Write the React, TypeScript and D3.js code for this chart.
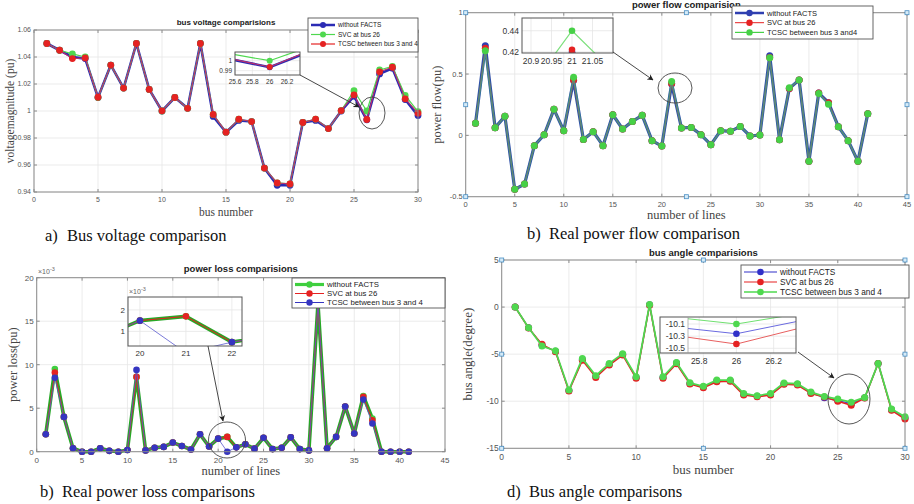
import React, { useRef, useEffect } from 'react';
import * as d3 from 'd3';

// ---- data ----
const busNumbers = [1, 2, 3, 4, 5, 6, 7, 8, 9, 10, 11, 12, 13, 14, 15, 16, 17, 18, 19, 20, 21, 22, 23, 24, 25, 26, 27, 28, 29, 30];
const lineNumbers = [1, 2, 3, 4, 5, 6, 7, 8, 9, 10, 11, 12, 13, 14, 15, 16, 17, 18, 19, 20, 21, 22, 23, 24, 25, 26, 27, 28, 29, 30, 31, 32, 33, 34, 35, 36, 37, 38, 39, 40, 41];

// a) bus voltage (pu)
const voltWithout = [1.05, 1.045, 1.040, 1.0388, 1.010, 1.034, 1.017, 1.05, 1.016, 1.000, 1.010, 1.002, 1.05, 0.996, 0.9843, 0.993, 0.9922, 0.9577, 0.945, 0.945, 0.9915, 0.993, 0.987, 1.000, 1.011, 0.9935, 1.0275, 1.0317, 1.0085, 0.9966];
const voltSvc = [1.05, 1.045, 1.0423, 1.040, 1.010, 1.034, 1.017, 1.05, 1.016, 1.000, 1.010, 1.002, 1.05, 0.9975, 0.9843, 0.9939, 0.9922, 0.9577, 0.9467, 0.946, 0.9915, 0.994, 0.987, 1.0003, 1.015, 1.000, 1.0304, 1.033, 1.0115, 0.9996];
const voltTcsc = [1.05, 1.045, 1.0388, 1.0393, 1.0102, 1.034, 1.017, 1.05, 1.016, 1.0001, 1.010, 1.002, 1.05, 0.9975, 0.9843, 0.9939, 0.9922, 0.9577, 0.9467, 0.946, 0.9915, 0.994, 0.987, 1.0003, 1.012, 0.9937, 1.029, 1.0324, 1.009, 0.9984];

// b) real power flow (pu)
const flowWithout = [0.098, 0.73, 0.063, 0.155, -0.44, -0.397, -0.084, 0.005, 0.212, 0.038, 0.45, -0.033, 0.03, -0.084, 0.168, 0.052, 0.114, 0.163, -0.043, -0.087, 0.42, 0.06, 0.065, 0.005, -0.076, 0.038, 0.033, 0.073, -0.005, 0.003, 0.65, -0.035, 0.383, 0.451, -0.212, 0.345, 0.266, 0.071, -0.043, -0.212, 0.177];
const flowSvc = [0.098, 0.71, 0.063, 0.155, -0.44, -0.397, -0.084, 0.005, 0.212, 0.038, 0.451, -0.033, 0.03, -0.084, 0.168, 0.052, 0.114, 0.163, -0.043, -0.087, 0.422, 0.06, 0.065, 0.005, -0.076, 0.038, 0.033, 0.073, -0.005, 0.003, 0.635, -0.035, 0.383, 0.451, -0.212, 0.345, 0.266, 0.071, -0.043, -0.212, 0.177];
const flowTcsc = [0.098, 0.69, 0.063, 0.155, -0.44, -0.397, -0.084, 0.005, 0.212, 0.038, 0.473, -0.033, 0.03, -0.084, 0.168, 0.052, 0.114, 0.163, -0.043, -0.087, 0.44, 0.06, 0.065, 0.005, -0.076, 0.038, 0.033, 0.073, -0.005, 0.003, 0.633, -0.035, 0.389, 0.451, -0.212, 0.342, 0.253, 0.071, -0.043, -0.212, 0.177];

// c) real power loss (x10^-3 pu)
const lossWithout = [2.0, 9.5, 4.0, 0.4, 0, 0, 0.4, 0.1, 0, 0.2, 8.6, 0.15, 0.45, 0.55, 1.05, 0.65, 0.25, 2.0, 0.6, 1.5, 1.7, 0.5, 0.85, 0.35, 1.6, 0.3, 0.45, 1.65, 0.3, 0.15, 17.0, 0.4, 1.7, 5.2, 2.1, 6.4, 3.8, 0, 0, 0, 0];
const lossSvc = [2.0, 9.1, 4.0, 0.4, 0, 0, 0.4, 0.1, 0, 0.2, 8.6, 0.15, 0.45, 0.55, 1.05, 0.65, 0.25, 2.0, 0.6, 1.5, 1.7, 0.5, 0.85, 0.35, 1.6, 0.3, 0.45, 1.65, 0.3, 0.15, 17.0, 0.4, 1.7, 5.2, 2.1, 6.3, 3.6, 0, 0, 0, 0];
const lossTcsc = [2.0, 8.5, 4.0, 0.4, 0, 0, 0.4, 0.1, 0, 0.2, 9.4, 0.15, 0.45, 0.55, 1.05, 0.65, 0.25, 2.0, 0.6, 1.5, 0.0, 0.5, 0.85, 0.35, 1.6, 0.3, 0.45, 1.65, 0.3, 0.15, 17.0, 0.4, 1.7, 5.2, 2.1, 6.0, 3.25, 0, 0, 0, 0];

// d) bus angle (degree)
const angleWithout = [0, -2.2, -4.05, -4.7, -8.87, -5.56, -7.38, -6.07, -5.03, -7.48, 0.24, -7.48, -5.95, -8.11, -8.5, -7.84, -7.82, -9.26, -9.47, -9.26, -8.14, -8.21, -9.1, -9.63, -9.93, -10.26, -9.64, -5.99, -10.9, -11.78];
const angleSvc = [0, -2.22, -3.96, -4.74, -8.92, -5.66, -7.47, -6.16, -5.1, -7.57, 0.2, -7.57, -6.02, -8.18, -8.57, -7.93, -7.89, -9.35, -9.52, -9.35, -8.21, -8.28, -9.17, -9.56, -10.0, -10.43, -9.66, -6.0, -10.97, -11.9];
const angleTcsc = [0, -2.19, -4.14, -4.64, -8.81, -5.45, -7.29, -5.98, -4.96, -7.4, 0.28, -7.4, -5.88, -8.04, -8.42, -7.75, -7.75, -9.17, -9.42, -9.17, -8.07, -8.14, -9.03, -9.49, -9.77, -10.1, -9.6, -5.98, -10.83, -11.65];

const busTicks = [0, 5, 10, 15, 20, 25, 30];
const lineTicks = [0, 5, 10, 15, 20, 25, 30, 35, 40, 45];
const voltTicks = [0.94, 0.96, 0.98, 1, 1.02, 1.04, 1.06];
const flowTicks = [-0.5, 0, 0.5, 1];
const lossTicks = [0, 5, 10, 15, 20];
const angleTicks = [-15, -10, -5, 0, 5];

const BLUE = '#2b2bb4';
const RED = '#e52222';
const GREEN = '#4fd84f';
const SANS = 'Liberation Sans, Arial, sans-serif';
const SERIF = 'Liberation Serif, Times New Roman, serif';

function drawPanel(root, p) {
  const g = root.append('g');
  const x = d3.scaleLinear().domain(p.xDomain).range([p.left, p.right]);
  const y = d3.scaleLinear().domain(p.yDomain).range([p.bottom, p.top]);

  // grid
  g.selectAll('.gx').data(p.xTicks).enter().append('line')
    .attr('x1', d => x(d)).attr('x2', d => x(d)).attr('y1', p.top).attr('y2', p.bottom)
    .attr('stroke', '#e6e6e6').attr('stroke-width', 0.8);
  g.selectAll('.gy').data(p.yTicks).enter().append('line')
    .attr('x1', p.left).attr('x2', p.right).attr('y1', d => y(d)).attr('y2', d => y(d))
    .attr('stroke', '#e6e6e6').attr('stroke-width', 0.8);

  // series
  p.series.forEach(s => {
    const line = d3.line().x((d, i) => x(p.xs[i])).y(d => y(d));
    g.append('path').datum(s.values).attr('d', line).attr('fill', 'none')
      .attr('stroke', s.lineColor || s.color).attr('stroke-width', s.width)
      .attr('stroke-opacity', s.opacity || 1).attr('stroke-linejoin', 'round');
    g.selectAll(null).data(s.values).enter().append('circle')
      .attr('cx', (d, i) => x(p.xs[i])).attr('cy', d => y(d)).attr('r', p.r)
      .attr('fill', s.color);
  });

  // box + ticks
  g.append('rect').attr('x', p.left).attr('y', p.top)
    .attr('width', p.right - p.left).attr('height', p.bottom - p.top)
    .attr('fill', 'none').attr('stroke', '#8c8c8c').attr('stroke-width', 1);
  g.selectAll('.tx').data(p.xTicks).enter().append('path')
    .attr('d', d => `M${x(d)},${p.bottom}v-3M${x(d)},${p.top}v3`).attr('stroke', '#8c8c8c');
  g.selectAll('.ty').data(p.yTicks).enter().append('path')
    .attr('d', d => `M${p.left},${y(d)}h3M${p.right},${y(d)}h-3`).attr('stroke', '#8c8c8c');

  g.selectAll('.lx').data(p.xTicks).enter().append('text')
    .attr('x', d => x(d)).attr('y', p.bottom + p.tickFont + 3).attr('text-anchor', 'middle')
    .attr('font-family', SANS).attr('font-size', p.tickFont).attr('fill', '#555')
    .text(d => String(d));
  g.selectAll('.ly').data(p.yTicks).enter().append('text')
    .attr('x', p.left - 3).attr('y', d => y(d) + p.tickFont * 0.35).attr('text-anchor', 'end')
    .attr('font-family', SANS).attr('font-size', p.tickFont).attr('fill', '#555')
    .text(d => String(d));

  // axis labels
  g.append('text').attr('x', (p.left + p.right) / 2).attr('y', p.xLabelY).attr('text-anchor', 'middle')
    .attr('font-family', SERIF).attr('font-size', p.labelFont).attr('fill', '#444').text(p.xLabel);
  g.append('text').attr('transform', `translate(${p.yLabelX},${(p.top + p.bottom) / 2}) rotate(-90)`)
    .attr('text-anchor', 'middle').attr('font-family', SERIF).attr('font-size', p.labelFont)
    .attr('fill', '#444').text(p.yLabel);

  // title
  g.append('text').attr('x', (p.left + p.right) / 2).attr('y', p.titleY).attr('text-anchor', 'middle')
    .attr('font-family', SANS).attr('font-weight', 'bold').attr('font-size', p.titleFont)
    .attr('fill', '#222').text(p.title);

  // selection handles
  if (p.handles) {
    const hx = [p.left, (p.left + p.right) / 2, p.right];
    const hy = [p.top, (p.top + p.bottom) / 2, p.bottom];
    hx.forEach((a, i) => hy.forEach((b, j) => {
      if (i === 1 && j === 1) return;
      g.append('rect').attr('x', a - 2).attr('y', b - 2).attr('width', 4).attr('height', 4)
        .attr('fill', '#d6ebf8').attr('stroke', '#4a8fc4').attr('stroke-width', 0.8);
    }));
  }
  return { x, y };
}

function drawInset(root, p, id) {
  const g = root.append('g');
  const x = d3.scaleLinear().domain(p.xDomain).range([p.left, p.right]);
  const y = d3.scaleLinear().domain(p.yDomain).range([p.bottom, p.top]);
  const frameLeft = p.frameLeft || p.left;
  g.append('rect').attr('x', frameLeft).attr('y', p.top).attr('width', p.right - frameLeft)
    .attr('height', p.bottom - p.top).attr('fill', 'white');
  g.append('clipPath').attr('id', id).append('rect').attr('x', p.left).attr('y', p.top)
    .attr('width', p.right - p.left).attr('height', p.bottom - p.top);
  g.selectAll('.gx').data(p.xTicks).enter().append('line')
    .attr('x1', d => x(d)).attr('x2', d => x(d)).attr('y1', p.top).attr('y2', p.bottom)
    .attr('stroke', '#e6e6e6').attr('stroke-width', 0.8);
  g.selectAll('.gy').data(p.yTicks).enter().append('line')
    .attr('x1', p.left).attr('x2', p.right).attr('y1', d => y(d)).attr('y2', d => y(d))
    .attr('stroke', '#e6e6e6').attr('stroke-width', 0.8);
  const inner = g.append('g').attr('clip-path', `url(#${id})`);
  p.series.forEach(s => {
    const line = d3.line().x((d, i) => x(p.xs[i])).y(d => y(d));
    inner.append('path').datum(s.values).attr('d', line).attr('fill', 'none')
      .attr('stroke', s.lineColor || s.color).attr('stroke-width', s.width)
      .attr('stroke-opacity', s.opacity || 1);
    inner.selectAll(null).data(s.values).enter().append('circle')
      .attr('cx', (d, i) => x(p.xs[i])).attr('cy', d => y(d)).attr('r', p.r).attr('fill', s.color);
  });
  g.append('rect').attr('x', frameLeft).attr('y', p.top).attr('width', p.right - frameLeft)
    .attr('height', p.bottom - p.top).attr('fill', 'none').attr('stroke', '#555').attr('stroke-width', 1);
  if (p.frameLeft) {
    g.append('line').attr('x1', p.left).attr('x2', p.left).attr('y1', p.top).attr('y2', p.bottom)
      .attr('stroke', '#999').attr('stroke-width', 0.7);
  }
  g.selectAll('.lx').data(p.xTicks).enter().append('text')
    .attr('x', d => x(d)).attr('y', p.bottom + p.font + 2).attr('text-anchor', 'middle')
    .attr('font-family', SANS).attr('font-size', p.font).attr('fill', '#333').text(d => String(d));
  g.selectAll('.ly').data(p.yTicks).enter().append('text')
    .attr('x', p.left - 3).attr('y', d => y(d) + p.font * 0.35).attr('text-anchor', 'end')
    .attr('font-family', SANS).attr('font-size', p.font).attr('fill', '#333').text(d => String(d));
}

function drawLegend(root, p) {
  const g = root.append('g');
  g.append('rect').attr('x', p.left).attr('y', p.top).attr('width', p.width).attr('height', p.height)
    .attr('fill', 'white').attr('stroke', '#555').attr('stroke-width', 0.9);
  p.items.forEach((it, i) => {
    const yy = p.top + p.rowY0 + i * p.rowStep;
    g.append('line').attr('x1', p.left + 3).attr('x2', p.left + 3 + p.sample).attr('y1', yy).attr('y2', yy)
      .attr('stroke', it.color).attr('stroke-width', it.width);
    g.append('circle').attr('cx', p.left + 3 + p.sample / 2).attr('cy', yy).attr('r', p.r).attr('fill', it.color);
    g.append('text').attr('x', p.left + 6 + p.sample).attr('y', yy + p.font * 0.35)
      .attr('font-family', SANS).attr('font-size', p.font).attr('fill', '#222').text(it.label);
  });
}

function drawCallout(root, a, c) {
  root.append('line').attr('x1', a[0]).attr('y1', a[1]).attr('x2', a[2]).attr('y2', a[3])
    .attr('stroke', '#333').attr('stroke-width', 0.9).attr('marker-end', 'url(#arrowHead)');
  root.append('ellipse').attr('cx', c[0]).attr('cy', c[1]).attr('rx', c[2]).attr('ry', c[3])
    .attr('fill', 'none').attr('stroke', '#444').attr('stroke-width', 0.9);
}

const App = () => {
  const svgRef = useRef(null);

  useEffect(() => {
    const svg = d3.select(svgRef.current);
    svg.selectAll('*').remove();
    svg.append('rect').attr('width', 914).attr('height', 504).attr('fill', 'white');
    svg.append('defs').append('marker').attr('id', 'arrowHead').attr('viewBox', '0 0 10 10')
      .attr('refX', 9).attr('refY', 5).attr('markerWidth', 7).attr('markerHeight', 7)
      .attr('orient', 'auto').append('path').attr('d', 'M0,0L10,5L0,10L3,5z').attr('fill', '#222');

    // ---- a) bus voltage ----
    const voltSeries = [
      { values: voltWithout, color: BLUE, width: 2.6 },
      { values: voltSvc, color: GREEN, width: 1.2 },
      { values: voltTcsc, color: RED, lineColor: '#c0306a', width: 1.1 },
    ];
    drawPanel(svg, {
      left: 34, right: 418, top: 30, bottom: 192, xDomain: [0, 30], yDomain: [0.94, 1.06],
      xTicks: busTicks, yTicks: voltTicks, xs: busNumbers, series: voltSeries, r: 3.4,
      tickFont: 7, labelFont: 11.5, xLabel: 'bus number', xLabelY: 216, yLabel: 'voltagemagnitude (pu)', yLabelX: 14,
      title: 'bus voltage comparisions', titleY: 25, titleFont: 8,
    });
    drawInset(svg, {
      left: 235, right: 300, top: 52, bottom: 75, xDomain: [25.6, 26.35], yDomain: [0.9857, 1.0087],
      xTicks: [25.6, 25.8, 26, 26.2], yTicks: [0.99, 1], xs: busNumbers, series: voltSeries, r: 3, font: 6.5,
    }, 'clipA');
    drawCallout(svg, [300, 75, 359, 107], [372, 113, 13, 16]);
    drawLegend(svg, {
      left: 308, top: 18, width: 110, height: 34, rowY0: 7, rowStep: 9.5, sample: 24, r: 3, font: 6.5,
      items: [
        { label: 'without FACTS', color: BLUE, width: 2.5 },
        { label: 'SVC at bus 26', color: GREEN, width: 1.2 },
        { label: 'TCSC between bus 3 and 4', color: RED, width: 1.2 },
      ],
    });

    // ---- b) power flow ----
    const flowSeries = [
      { values: flowWithout, color: '#2f3fb0', lineColor: '#2f4fa8', width: 3.2 },
      { values: flowSvc, color: RED, width: 1 },
      { values: flowTcsc, color: '#46d046', lineColor: '#3da58a', width: 1.8, opacity: 0.75 },
    ];
    drawPanel(svg, {
      left: 465.7, right: 907, top: 12.7, bottom: 196.7, xDomain: [0, 45], yDomain: [-0.5, 1],
      xTicks: lineTicks, yTicks: flowTicks, xs: lineNumbers, series: flowSeries, r: 3.5,
      tickFont: 7.5, labelFont: 12.5, xLabel: 'number of lines', xLabelY: 219, yLabel: 'power flow(pu)', yLabelX: 441,
      title: 'power flow comparision', titleY: 8, titleFont: 9.5, handles: true,
    });
    drawInset(svg, {
      left: 522, right: 613, top: 18, bottom: 53, xDomain: [20.878, 21.1], yDomain: [0.419, 0.452],
      xTicks: [20.9, 20.95, 21, 21.05], yTicks: [0.42, 0.44], xs: lineNumbers,
      series: [
        { values: flowWithout, color: '#2f3fb0', width: 1.5 },
        { values: flowSvc, color: RED, width: 1 },
        { values: flowTcsc, color: '#46d046', lineColor: '#7de07d', width: 1.2 },
      ], r: 3.3, font: 8.5,
    }, 'clipB');
    drawCallout(svg, [613, 52, 653, 80], [675, 88, 17, 15]);
    drawLegend(svg, {
      left: 732, top: 6, width: 141, height: 33, rowY0: 7, rowStep: 9.7, sample: 29, r: 3.2, font: 7.5,
      items: [
        { label: 'without FACTS', color: '#2f3fb0', width: 2.5 },
        { label: 'SVC at bus 26', color: RED, width: 1 },
        { label: 'TCSC between bus 3 and4', color: '#46d046', width: 1.2 },
      ],
    });

    // ---- c) power loss ----
    const lossSeries = [
      { values: lossWithout, color: '#3fcf3f', lineColor: '#27a827', width: 3.6 },
      { values: lossSvc, color: RED, width: 1 },
      { values: lossTcsc, color: '#3535c0', lineColor: '#5a5ad0', width: 1, opacity: 0.8 },
    ];
    drawPanel(svg, {
      left: 36.7, right: 445, top: 277.7, bottom: 451.7, xDomain: [0, 45], yDomain: [0, 20],
      xTicks: lineTicks, yTicks: lossTicks, xs: lineNumbers, series: lossSeries, r: 3.3,
      tickFont: 8, labelFont: 12.5, xLabel: 'number of lines', xLabelY: 475, yLabel: 'power loss(pu)', yLabelX: 17,
      title: 'power loss comparisions', titleY: 272, titleFont: 9.5,
    });
    const e1 = svg.append('text').attr('x', 38).attr('y', 274).attr('font-family', SANS)
      .attr('font-size', 7).attr('fill', '#666');
    e1.append('tspan').text('×10');
    e1.append('tspan').attr('dy', -3).attr('font-size', 5.5).text('-3');
    drawInset(svg, {
      left: 128, right: 242, top: 297, bottom: 346, xDomain: [19.74, 22.22], yDomain: [0.32, 2.6],
      xTicks: [20, 21, 22], yTicks: [1, 2], xs: lineNumbers, series: lossSeries, r: 3.3, font: 8,
    }, 'clipC');
    const e2 = svg.append('text').attr('x', 129).attr('y', 294).attr('font-family', SANS)
      .attr('font-size', 7).attr('fill', '#666');
    e2.append('tspan').text('×10');
    e2.append('tspan').attr('dy', -3).attr('font-size', 5.5).text('-3');
    drawCallout(svg, [208, 346, 223, 421], [227, 440, 18.5, 18]);
    drawLegend(svg, {
      left: 292, top: 278, width: 153, height: 30, rowY0: 6.5, rowStep: 9, sample: 29, r: 3.2, font: 7.8,
      items: [
        { label: 'without FACTS', color: '#3fcf3f', width: 3.2 },
        { label: 'SVC at bus 26', color: RED, width: 1 },
        { label: 'TCSC between bus 3 and 4', color: '#3535c0', width: 1 },
      ],
    });

    // ---- d) bus angle ----
    const angleSeries = [
      { values: angleWithout, color: '#3030c8', lineColor: '#4a4ad8', width: 1.2 },
      { values: angleSvc, color: RED, width: 1.5 },
      { values: angleTcsc, color: GREEN, width: 1.8 },
    ];
    drawPanel(svg, {
      left: 501.7, right: 905, top: 260, bottom: 448.3, xDomain: [0, 30], yDomain: [-15, 5],
      xTicks: busTicks, yTicks: angleTicks, xs: busNumbers, series: angleSeries, r: 3.5,
      tickFont: 8.5, labelFont: 13, xLabel: 'bus number', xLabelY: 474, yLabel: 'bus angle(degree)', yLabelX: 472,
      title: 'bus angle comparisions', titleY: 256, titleFont: 9.5, handles: true,
    });
    drawInset(svg, {
      frameLeft: 660, left: 688, right: 796, top: 317, bottom: 353, xDomain: [25.74, 26.32], yDomain: [-10.577, -9.985],
      xTicks: [25.8, 26, 26.2], yTicks: [-10.1, -10.3, -10.5], xs: busNumbers,
      series: [
        { values: angleWithout, color: '#3030c8', lineColor: '#6a6ae0', width: 1 },
        { values: angleSvc, color: RED, lineColor: '#e86060', width: 1 },
        { values: angleTcsc, color: GREEN, lineColor: '#70e070', width: 1 },
      ], r: 3.3, font: 8.5,
    }, 'clipD');
    drawCallout(svg, [798, 352, 834, 378], [849, 399, 21, 25]);
    drawLegend(svg, {
      left: 741, top: 265, width: 168, height: 33, rowY0: 7, rowStep: 10, sample: 33, r: 3.3, font: 8.3,
      items: [
        { label: 'without FACTS', color: '#3030c8', width: 1.2 },
        { label: 'SVC at bus 26', color: RED, width: 1.2 },
        { label: 'TCSC between bus 3 and 4', color: GREEN, width: 1.5 },
      ],
    });

    // captions
    const captions = [
      { x: 45, y: 241, tag: 'a)', text: 'Bus voltage comparison' },
      { x: 527, y: 239, tag: 'b)', text: 'Real power flow comparison' },
      { x: 40, y: 497, tag: 'b)', text: 'Real power loss comparisons' },
      { x: 507, y: 497, tag: 'd)', text: 'Bus angle comparisons' },
    ];
    captions.forEach(c => {
      svg.append('text').attr('x', c.x).attr('y', c.y).attr('font-family', SERIF).attr('font-size', 16.5)
        .attr('fill', '#111').text(c.tag);
      svg.append('text').attr('x', c.x + 22).attr('y', c.y).attr('font-family', SERIF).attr('font-size', 16.5)
        .attr('fill', '#111').text(c.text);
    });
  }, []);

  return (
    <svg ref={svgRef} width={914} height={504} style={{ position: 'absolute', left: 0, top: 0 }}></svg>
  );
};

export default App;
